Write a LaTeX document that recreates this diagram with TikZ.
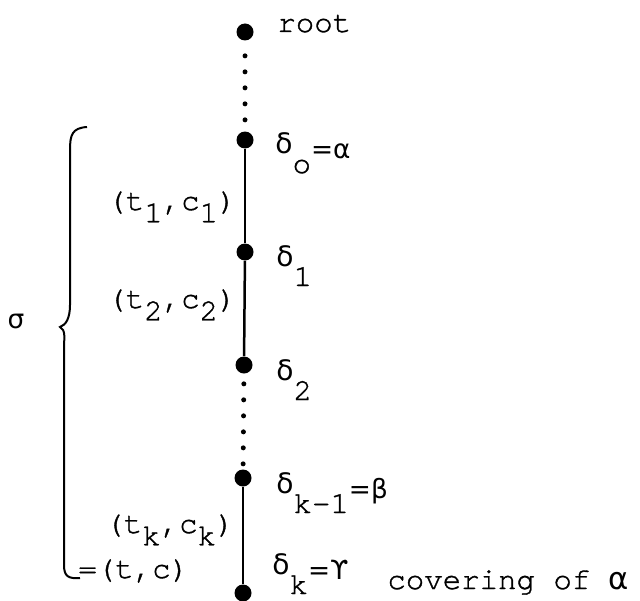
\documentclass[tikz,border=0pt]{standalone}
\usepackage{fontspec}
\newfontfamily\greekfont{DejaVu Sans}
\newfontfamily\typew[FakeBold=1.2]{TeX Gyre Cursor}
\usepackage{tikz}
\usetikzlibrary{positioning}
\newcommand{\gsm}[2][15]{{\greekfont\fontsize{#1}{#1}\selectfont #2}}
\newcommand{\upd}[1]{\raisebox{11pt}{\gsm[16]{#1}}}
\newcommand{\upg}[1]{\raisebox{8pt}{\gsm[15]{#1}}}
\newcommand{\dnx}[1]{\raisebox{-7pt}{#1}}

\begin{document}
\begin{tikzpicture}[font=\typew\fontsize{17.5}{20}\selectfont,
  vtx/.style={circle, fill=black, inner sep=0pt, minimum width=0.3cm, minimum height=0.34cm},
  edgeline/.style={line width=0.05cm},
  dotline/.style={line width=0.1cm, line cap=round, dash pattern=on 0pt off 0.32cm}]
\useasboundingbox (0,0) rectangle (12.8,12);
% path of the tree
\node[vtx] (root) at (4.9,11.36) {};
\node[vtx] (d0) at (4.9,9.2) {};
\node[vtx] (d1) at (4.9,6.96) {};
\node[vtx] (d2) at (4.88,4.7) {};
\node[vtx] (dkm) at (4.86,2.44) {};
\node[vtx] (dk) at (4.86,0.14) {};
\draw[dotline, shorten <=0.3cm] (root) -- (d0);
\draw[edgeline] (d0) -- (d1);
\draw[edgeline] (d1) -- (d2);
\draw[dotline, shorten <=0.2cm] (d2) -- (dkm);
\draw[edgeline] (dkm) -- (dk);
% node labels
\node[anchor=base west, inner sep=0pt] (lroot) at (5.54,11.36) {root};
\node[anchor=base west, inner sep=0pt] (l0) at (5.5,8.54) {\upd{δ}o\upg{=α}};
\node[anchor=base west, inner sep=0pt] (l1) at (5.52,6.28) {\upd{δ}1};
\node[anchor=base west, inner sep=0pt] (l2) at (5.52,4.0) {\upd{δ}2};
\node[anchor=base west, inner sep=0pt] (lkm) at (5.52,1.74) {\upd{δ}k-1\upg{=β}};
\node[anchor=base west, inner sep=0pt] (lk) at (5.44,0.12) {\upd{δ}k\upg{=ϒ}};
\node[anchor=base west, inner sep=0pt] (cov) at (7.74,0.22) {covering of {\greekfont α}};
% edge labels
\node[anchor=base west, inner sep=0pt] (e1) at (2.14,7.8) {(t\dnx{1},c\dnx{1})};
\node[anchor=base west, inner sep=0pt] (e2) at (2.14,5.84) {(t\dnx{2},c\dnx{2})};
\node[anchor=base west, inner sep=0pt] (ek) at (2.1,1.34) {(t\dnx{k},c\dnx{k})};
\node[anchor=base west, inner sep=0pt] (etc) at (1.56,0.44) {=(t,c)};
% the brace
\draw[line width=0.04cm] (1.74,9.46) .. controls (1.44,9.44) and (1.4,9.3) .. (1.4,9.0)
  -- (1.4,5.9) .. controls (1.4,5.64) and (1.32,5.5) .. (1.2,5.46)
  .. controls (1.32,5.4) and (1.28,5.24) .. (1.28,5.0)
  -- (1.28,0.7) .. controls (1.28,0.48) and (1.36,0.42) .. (1.6,0.44);
\node (sig) at (0.32,5.58) {\gsm[15]{σ}};
\end{tikzpicture}
\end{document}
